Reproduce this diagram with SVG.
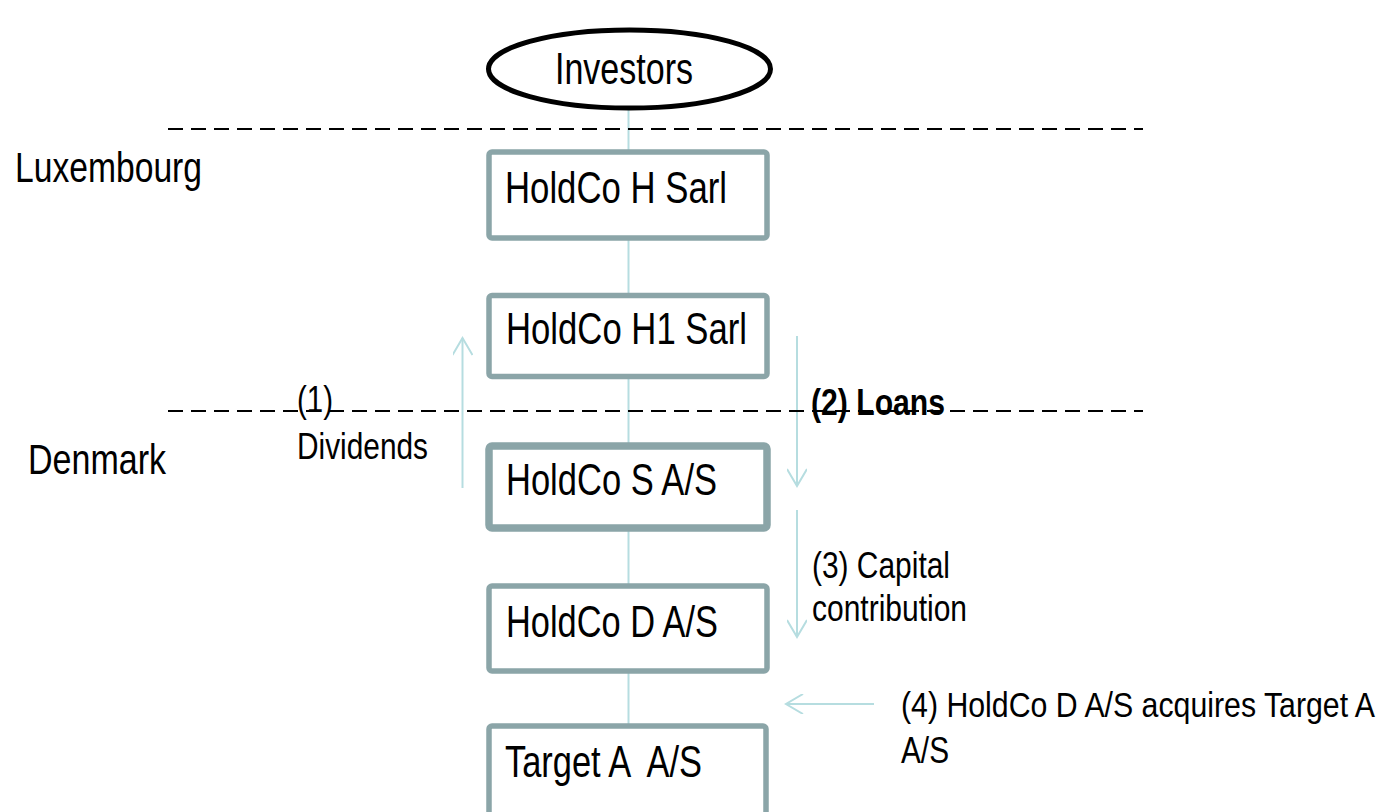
<svg xmlns="http://www.w3.org/2000/svg" width="1386" height="812" viewBox="0 0 1386 812">
  <style>
    .t { font-family: "Liberation Sans Narrow", "Liberation Sans", Arial, sans-serif; fill: #000; }
    .box { fill: #fff; stroke: #8ba5a8; stroke-width: 5.5; }
    .box-thick { fill: #fff; stroke: #8ba5a8; stroke-width: 7.5; }
    .link { stroke: #b6dde0; stroke-width: 2; fill: none; }
    .flow { stroke: #b6dde0; stroke-width: 2; fill: none; }
    .border { stroke: #000; stroke-width: 2; stroke-dasharray: 15 8; fill: none; }
  </style>
  <defs>
    <marker id="open-arrow" viewBox="0 0 20 20" refX="18" refY="10" markerWidth="20" markerHeight="20" markerUnits="userSpaceOnUse" orient="auto">
      <path d="M1,0 L18,10 L1,20" fill="none" stroke="#b6dde0" stroke-width="2"/>
    </marker>
  </defs>

  <rect width="1386" height="812" fill="#fff"/>

  <!-- ownership links down the chain -->
  <g id="connectors">
    <line class="link" x1="628.5" y1="108" x2="628.5" y2="152"/>
    <line class="link" x1="628.5" y1="238" x2="628.5" y2="295"/>
    <line class="link" x1="628.5" y1="379" x2="628.5" y2="446"/>
    <line class="link" x1="628.5" y1="530" x2="628.5" y2="586"/>
    <line class="link" x1="628.5" y1="671" x2="628.5" y2="726"/>
    <!-- transaction flows -->
    <line id="flow-dividends" class="flow" x1="462.5" y1="488" x2="462.5" y2="338" marker-end="url(#open-arrow)"/>
    <line id="flow-loans" class="flow" x1="797" y1="336" x2="797" y2="486" marker-end="url(#open-arrow)"/>
    <line id="flow-capital" class="flow" x1="797" y1="510" x2="797" y2="637" marker-end="url(#open-arrow)"/>
    <line id="flow-acquire" class="flow" x1="874" y1="704" x2="786" y2="704" marker-end="url(#open-arrow)"/>
  </g>

  <!-- jurisdiction borders -->
  <g id="borders">
    <line class="border" x1="168" y1="129" x2="1143" y2="129"/>
    <line class="border" x1="168" y1="411" x2="1143" y2="411"/>
  </g>

  <g id="investors">
    <ellipse cx="629.5" cy="69" rx="141" ry="39" fill="#fff" stroke="#000" stroke-width="5"/>
    <text class="t" x="555" y="84" font-size="44" textLength="138" lengthAdjust="spacingAndGlyphs">Investors</text>
  </g>

  <g id="holdco-h">
    <rect class="box" x="489" y="152" width="278" height="86" rx="3"/>
    <text class="t" x="505" y="203" font-size="44" textLength="222" lengthAdjust="spacingAndGlyphs">HoldCo H Sarl</text>
  </g>

  <g id="holdco-h1">
    <rect class="box" x="489" y="295.5" width="278" height="81" rx="3"/>
    <text class="t" x="506" y="344" font-size="44" textLength="241" lengthAdjust="spacingAndGlyphs">HoldCo H1 Sarl</text>
  </g>

  <g id="holdco-s">
    <rect class="box-thick" x="489" y="446" width="278" height="82" rx="3"/>
    <text class="t" x="506" y="495" font-size="44" textLength="211" lengthAdjust="spacingAndGlyphs">HoldCo S A/S</text>
  </g>

  <g id="holdco-d">
    <rect class="box" x="489" y="586" width="278" height="85" rx="3"/>
    <text class="t" x="506" y="637" font-size="44" textLength="212" lengthAdjust="spacingAndGlyphs">HoldCo D A/S</text>
  </g>

  <g id="target-a">
    <rect class="box" x="489" y="726" width="277" height="110" rx="3"/>
    <text class="t" x="505" y="777" font-size="44" textLength="197" lengthAdjust="spacingAndGlyphs" xml:space="preserve">Target A  A/S</text>
  </g>

  <!-- jurisdiction labels -->
  <g id="labels">
    <text class="t" x="15" y="182" font-size="43" textLength="187" lengthAdjust="spacingAndGlyphs">Luxembourg</text>
    <text class="t" x="28" y="474" font-size="43" textLength="138" lengthAdjust="spacingAndGlyphs">Denmark</text>

    <text class="t" x="297" y="412" font-size="37" textLength="36" lengthAdjust="spacingAndGlyphs">(1)</text>
    <text class="t" x="297" y="459" font-size="37" textLength="131" lengthAdjust="spacingAndGlyphs">Dividends</text>

    <text class="t" x="811" y="415" font-size="37" font-weight="bold" textLength="134" lengthAdjust="spacingAndGlyphs">(2) Loans</text>

    <text class="t" x="812" y="578" font-size="37" textLength="138" lengthAdjust="spacingAndGlyphs">(3) Capital</text>
    <text class="t" x="812" y="621" font-size="37" textLength="155" lengthAdjust="spacingAndGlyphs">contribution</text>

    <text class="t" x="901" y="717" font-size="35" textLength="474" lengthAdjust="spacingAndGlyphs">(4) HoldCo D A/S acquires Target A</text>
    <text class="t" x="901" y="763" font-size="37" textLength="48" lengthAdjust="spacingAndGlyphs">A/S</text>
  </g>
</svg>
